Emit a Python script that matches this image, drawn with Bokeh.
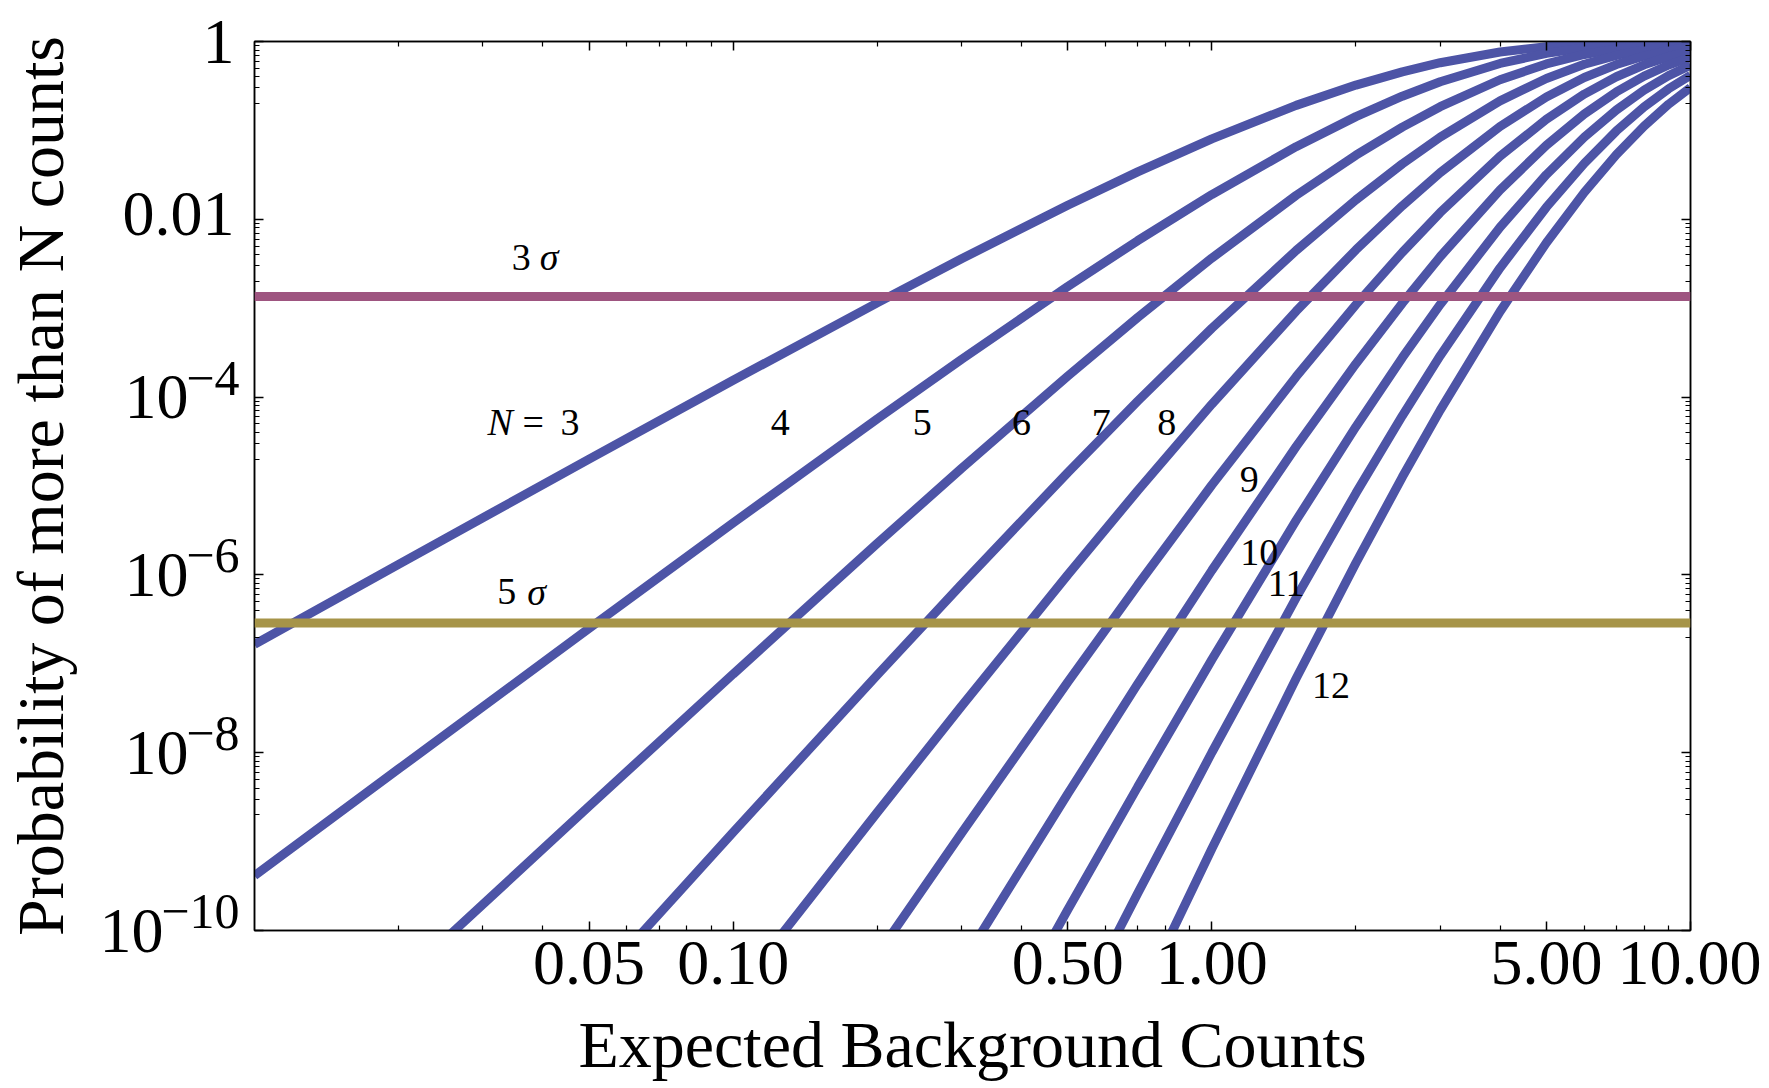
import json
import math
from bokeh.plotting import figure
from bokeh.models import (LogAxis, FixedTicker, CustomJSTickFormatter, Range1d,
                          ColumnDataSource, Span)
from bokeh.embed import file_html
from bokeh.resources import INLINE
from bokeh.core.properties import value

# ---------------- data ----------------
BACKGROUND = [0.01, 0.02, 0.05, 0.1, 0.2, 0.3, 0.5, 0.7, 1.0, 1.5, 2.0, 2.5,
              3.0, 4.0, 5.0, 6.0, 7.0, 8.0, 9.0, 10.0]

# probability of at least N counts, for the last len(P) background values
P_N3 = [1.654e-7, 1.314e-6, 2.007e-5, 1.547e-4, 1.148e-3, 3.600e-3, 1.439e-2,
        3.414e-2, 8.030e-2, 0.1912, 0.3233, 0.4562, 0.5768, 0.7619, 0.8753,
        0.9380, 0.9704, 0.9862, 0.9938, 0.9972]
P_N4 = [4.133e-10, 6.561e-9, 2.502e-7, 3.847e-6, 5.684e-5, 2.658e-4, 1.752e-3,
        5.753e-3, 1.899e-2, 6.564e-2, 0.1429, 0.2424, 0.3528, 0.5665, 0.7350,
        0.8488, 0.9182, 0.9576, 0.9788, 0.9897]
P_N5 = [2.622e-11, 2.498e-9, 7.668e-8, 2.258e-6, 1.579e-5, 1.721e-4, 7.855e-4,
        3.660e-3, 1.858e-2, 5.265e-2, 0.1088, 0.1847, 0.3712, 0.5595, 0.7149,
        0.8270, 0.9004, 0.9450, 0.9707]
P_N6 = [2.079e-11, 1.275e-9, 7.491e-8, 7.835e-7, 1.417e-5, 9.003e-5, 5.942e-4,
        4.456e-3, 1.656e-2, 4.202e-2, 8.392e-2, 0.2149, 0.3840, 0.5543, 0.6993,
        0.8088, 0.8843, 0.9329]
P_N7 = [1.818e-11, 2.132e-9, 3.339e-8, 1.002e-6, 8.884e-6, 8.324e-5, 9.260e-4,
        4.534e-3, 1.419e-2, 3.351e-2, 0.1107, 0.2378, 0.3937, 0.5503, 0.6866,
        0.7932, 0.8699]
P_N8 = [5.316e-11, 1.247e-9, 6.220e-8, 7.694e-7, 1.025e-5, 1.696e-4, 1.097e-3,
        4.246e-3, 1.190e-2, 5.113e-2, 0.1334, 0.2560, 0.4013, 0.5470, 0.6761,
        0.7798]
P_N9 = [4.142e-11, 3.436e-9, 5.935e-8, 1.125e-6, 2.774e-5, 2.374e-4, 1.140e-3,
        3.803e-3, 2.136e-2, 6.809e-2, 0.1528, 0.2709, 0.4075, 0.5443, 0.6672]
P_N10 = [1.239e-12, 1.710e-10, 4.127e-9, 1.114e-7, 4.098e-6, 4.650e-5, 2.773e-4,
         1.102e-3, 8.132e-3, 3.183e-2, 8.392e-2, 0.1695, 0.2834, 0.4126, 0.5421]
P_N11 = [7.740e-12, 2.612e-10, 1.005e-8, 5.518e-7, 8.308e-6, 6.162e-5, 2.923e-4,
         2.840e-3, 1.370e-2, 4.262e-2, 9.852e-2, 0.1841, 0.2940, 0.4170]
P_N12 = [3.214e-13, 1.516e-11, 8.316e-10, 6.824e-8, 1.365e-6, 1.260e-5, 7.139e-5,
         9.152e-4, 5.453e-3, 2.009e-2, 5.335e-2, 0.1119, 0.1970, 0.3032]
CURVES = [P_N3, P_N4, P_N5, P_N6, P_N7, P_N8, P_N9, P_N10, P_N11, P_N12]

SIGMA_3 = 1.35e-3
SIGMA_5 = 2.87e-7

X_TICKS = [0.05, 0.1, 0.5, 1.0, 5.0, 10.0]
X_MINOR = [0.02, 0.03, 0.04, 0.06, 0.07, 0.08, 0.09,
           0.2, 0.3, 0.4, 0.6, 0.7, 0.8, 0.9,
           2, 3, 4, 6, 7, 8, 9]
Y_TICKS = [1, 1e-2, 1e-4, 1e-6, 1e-8, 1e-10]
Y_MINOR = [m * 10.0 ** e for e in (-1, -3, -5, -7, -9) for m in range(2, 10)]
# y tick labels: plain ones, and powers of ten (base "10" + exponent)
Y_PLAIN_TICKS = [1, 1e-2]
Y_PLAIN_LABELS = ["1", "0.01"]
Y_POW_TICKS = [1e-4, 1e-6, 1e-8, 1e-10]
Y_POW_EXPS = ["\u22124", "\u22126", "\u22128", "\u221210"]

CURVE_LABELS = ["4", "5", "6", "7", "8", "9", "10", "11", "12"]
CURVE_LABEL_X = [0.1254, 0.2484, 0.4002, 0.5876, 0.8050, 1.1966, 1.2558, 1.4294, 1.7742]
CURVE_LABEL_Y = [5.18e-5, 5.18e-5, 5.18e-5, 5.18e-5, 5.18e-5, 1.183e-5, 1.786e-6,
                 8.0e-7, 5.70e-8]

# ---------------- style ----------------
FONT = "Liberation Serif"
CURVE_COLOR = "#4D54A6"
S3_COLOR = "#9E5580"
S5_COLOR = "#A69448"
X0, X1 = 0.01, 10.0
Y0, Y1 = 1e-10, 1.0
PX_PER_DEC_Y = 889 / 10.0

p = figure(width=1761, height=1084, x_axis_type="log", y_axis_type="log",
           x_range=Range1d(X0, X1), y_range=Range1d(Y0, Y1),
           output_backend="svg", toolbar_location=None,
           min_border_left=252, min_border_right=71,
           min_border_top=41, min_border_bottom=154)
p.background_fill_color = "white"
p.border_fill_color = "white"
p.outline_line_color = "black"
p.outline_line_width = 1.5
p.xgrid.visible = False
p.ygrid.visible = False

for vals in CURVES:
    xs = BACKGROUND[len(BACKGROUND) - len(vals):]
    p.line(xs, vals, line_width=9, line_color=CURVE_COLOR)

p.add_layout(Span(location=SIGMA_3, dimension="width", line_color=S3_COLOR, line_width=9))
p.add_layout(Span(location=SIGMA_5, dimension="width", line_color=S5_COLOR, line_width=9))

# ---- axes ----
blank = CustomJSTickFormatter(code="return '';")


def map_formatter(ticks, labels):
    m = {str(round(math.log10(t) * 1000)): lab for t, lab in zip(ticks, labels)}
    return CustomJSTickFormatter(
        code="const m = %s; const k = String(Math.round(Math.log10(tick) * 1000));"
             " return (k in m) ? m[k] : '';" % json.dumps(m))


def shift(v, px):
    return v * 10 ** (px / PX_PER_DEC_Y)


def style_axis(ax, ticks, minor):
    ax.ticker = FixedTicker(ticks=ticks, minor_ticks=minor)
    ax.major_tick_in = 9
    ax.major_tick_out = 0
    ax.minor_tick_in = 5
    ax.minor_tick_out = 0
    ax.axis_line_color = "black"
    ax.axis_line_width = 1.5
    ax.major_tick_line_color = "black"
    ax.minor_tick_line_color = "black"
    ax.major_tick_line_width = 1.5
    ax.minor_tick_line_width = 1.2
    ax.major_label_text_font = FONT
    ax.major_label_text_font_size = "64px"
    ax.major_label_text_color = "black"
    ax.axis_label_text_font = FONT
    ax.axis_label_text_font_size = "66px"
    ax.axis_label_text_font_style = "normal"
    ax.axis_label_text_color = "black"


def label_axis(ticks, labels, size, standoff):
    ax = LogAxis(ticker=FixedTicker(ticks=ticks), formatter=map_formatter(ticks, labels))
    ax.major_tick_in = 0
    ax.major_tick_out = 0
    ax.minor_tick_in = 0
    ax.minor_tick_out = 0
    ax.axis_line_color = None
    ax.major_tick_line_color = None
    ax.minor_tick_line_color = None
    ax.major_label_text_font = FONT
    ax.major_label_text_font_size = size
    ax.major_label_text_color = "black"
    ax.major_label_standoff = standoff
    ax.axis_label_text_font = FONT
    ax.axis_label_text_font_size = "66px"
    ax.axis_label_text_font_style = "normal"
    ax.axis_label_text_color = "black"
    return ax


xa = p.xaxis[0]
style_axis(xa, X_TICKS, X_MINOR)
xa.formatter = CustomJSTickFormatter(code="return tick.toFixed(2);")
xa.axis_label = "Expected Background Counts"
xa.major_label_standoff = 11
xa.axis_label_standoff = 21

# main left axis: ticks only
ya = p.yaxis[0]
style_axis(ya, Y_TICKS, Y_MINOR)
ya.formatter = blank
ya.major_label_standoff = 0

# stacked label axes (closest to the frame first)
exp_axis = label_axis([shift(t, 19) for t in Y_POW_TICKS], Y_POW_EXPS, "50px", 15)
p.add_layout(exp_axis, "left")
plain_axis = label_axis([Y_PLAIN_TICKS[0], shift(Y_PLAIN_TICKS[1], 5)], Y_PLAIN_LABELS, "64px", -76)
p.add_layout(plain_axis, "left")
base_axis = label_axis(Y_POW_TICKS[:3], ["10"] * 3, "64px", -69)
p.add_layout(base_axis, "left")
base_axis2 = label_axis(Y_POW_TICKS[3:], ["10"], "64px", -44)
base_axis2.axis_label = "Probability of more than N counts"
base_axis2.axis_label_standoff = 20
p.add_layout(base_axis2, "left")

top = LogAxis()
style_axis(top, X_TICKS, X_MINOR)
top.formatter = blank
top.major_label_standoff = 0
p.add_layout(top, "above")

right = LogAxis()
style_axis(right, Y_TICKS, Y_MINOR)
right.formatter = blank
right.major_label_standoff = 0
p.add_layout(right, "right")

# ---- annotations ----
txt = dict(text_font=value(FONT), text_font_size="38px", text_color="black",
           text_align="center", text_baseline="middle")
src = ColumnDataSource(dict(x=CURVE_LABEL_X, y=CURVE_LABEL_Y, t=CURVE_LABELS))
p.text(x="x", y="y", text="t", source=src, **txt)

NX, NY = 0.0382, 5.18e-5
p.text(x=[NX], y=[NY], text=["N"], x_offset=-33, text_font_style="italic", **txt)
p.text(x=[NX], y=[NY], text=["="], **txt)
p.text(x=[NX], y=[NY], text=["3"], x_offset=37, **txt)

p.text(x=[0.03606], y=[3.72e-3], text=["3"], **txt)
p.text(x=[0.03606], y=[3.72e-3], text=["\u03c3"], x_offset=28, text_font_style="italic", **txt)
p.text(x=[0.03363], y=[6.5e-7], text=["5"], **txt)
p.text(x=[0.03363], y=[6.5e-7], text=["\u03c3"], x_offset=30, text_font_style="italic", **txt)

open("out.html", "w").write(file_html(p, INLINE))
